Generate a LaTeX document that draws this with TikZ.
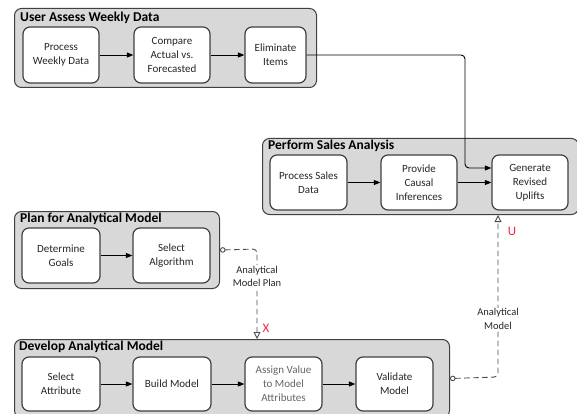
\documentclass[tikz,border=0pt]{standalone}
\usepackage{fontspec}
\setmainfont{Carlito}
\usetikzlibrary{arrows.meta,calc}
\definecolor{contfill}{RGB}{216,216,216}
\definecolor{edge}{RGB}{64,64,64}
\definecolor{redlbl}{RGB}{240,40,60}
\tikzset{
  container/.style={draw=edge,line width=1pt,fill=contfill,rounded corners=7pt,anchor=north west,inner sep=0pt},
  ctitle/.style={anchor=west,inner sep=0pt,font=\fontsize{13.5}{15}\selectfont\bfseries,text=black},
  task/.style={draw=edge,line width=1.2pt,fill=white,rounded corners=7pt,inner sep=1pt,align=center,
    font=\fontsize{11}{14}\selectfont,text=black!85},
  flow/.style={draw=black,line width=0.9pt,-{Triangle[length=6.5pt,width=5pt]}},
  msg/.style={draw=black!70,line width=0.9pt,dash pattern=on 5.5pt off 3.5pt,
    {Circle[open,length=5.5pt,width=5.5pt,fill=white]}-{Triangle[open,length=7pt,width=7pt,fill=white]},rounded corners=4pt},
  msglbl/.style={fill=white,inner sep=1pt,align=center,font=\fontsize{10.5}{13.5}\selectfont,text=black!85},
  redmark/.style={text=redlbl,font=\fontsize{13}{15}\selectfont,inner sep=0pt}
}
\begin{document}
\begin{tikzpicture}[x=1pt,y=-1pt]
\useasboundingbox (0,0) rectangle (577,414);
% containers
\node[container,minimum width=302pt,minimum height=79pt] (c1) at (14,8) {};
\node[container,minimum width=316pt,minimum height=76pt] (c2) at (262,138) {};
\node[container,minimum width=205pt,minimum height=77pt] (c3) at (14,211) {};
\node[container,minimum width=435pt,minimum height=78pt] (c4) at (14,339) {};
\node[ctitle] (t1) at (20,18) {User Assess Weekly Data};
\node[ctitle] (t2) at (268,146) {Perform Sales Analysis};
\node[ctitle] (t3) at (20,219) {Plan for Analytical Model};
\node[ctitle] (t4) at (19,347) {Develop Analytical Model};
% tasks
\node[task,minimum width=76pt,minimum height=56pt] (pwd) at (61,55) {Process\\Weekly Data};
\node[task,minimum width=76pt,minimum height=56pt] (caf) at (172,55) {Compare\\Actual vs.\\Forecasted};
\node[task,minimum width=61pt,minimum height=56pt] (eli) at (275.5,55) {Eliminate\\Items};
\node[task,minimum width=77pt,minimum height=55pt] (psd) at (308.5,182.5) {Process Sales\\Data};
\node[task,minimum width=76pt,minimum height=55pt] (pci) at (419,182.5) {Provide\\Causal\\Inferences};
\node[task,minimum width=76pt,minimum height=55pt] (gru) at (530,182.5) {Generate\\Revised\\Uplifts};
\node[task,minimum width=78pt,minimum height=55pt] (dg) at (61,255.5) {Determine\\Goals};
\node[task,minimum width=77pt,minimum height=55pt] (sa) at (171.5,255.5) {Select\\Algorithm};
\node[task,minimum width=78pt,minimum height=54pt] (sat) at (61,384) {Select\\Attribute};
\node[task,minimum width=78pt,minimum height=54pt] (bm) at (172,384) {Build Model};
\node[task,minimum width=77pt,minimum height=54pt,text=black!60] (av) at (283.5,384) {Assign Value\\to Model\\Attributes};
\node[task,minimum width=77pt,minimum height=54pt] (vm) at (394.5,384) {Validate\\Model};
% flows
\draw[flow] (pwd) -- (caf);
\draw[flow] (caf) -- (eli);
\draw[flow] (psd) -- (pci);
\draw[flow] (pci.east) -- (pci.east -| gru.west);
\draw[flow,rounded corners=4pt] (eli.east) -- (465,55) -- (465,168) -- (gru.west |- 0,168);
\draw[flow] (dg) -- (sa);
\draw[flow] (sat) -- (bm);
\draw[flow] (bm) -- (av);
\draw[flow] (av) -- (vm);
% message flows
\coordinate (m1) at (257,249);
\coordinate (m2) at (498,377);
\draw[msg] (c3.east) -- (m1) -- (m1 |- c4.north);
\draw[msg] (c4.east) -- (m2) -- (m2 |- c2.south);
\node[msglbl] (l1) at (257,276.5) {Analytical\\Model Plan};
\node[msglbl] (l2) at (498,319) {Analytical\\Model};
\node[redmark] (rx) at (266,328) {X};
\node[redmark] (ru) at (512,231) {U};
\end{tikzpicture}
\end{document}
